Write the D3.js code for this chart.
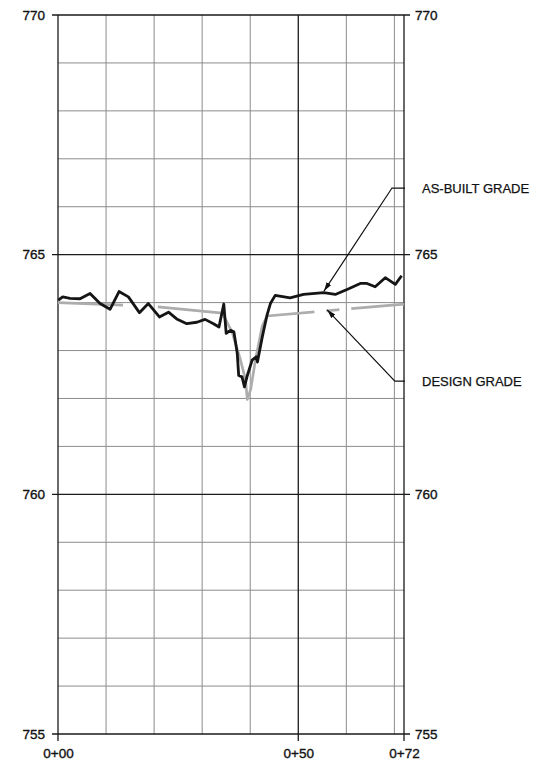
<!DOCTYPE html>
<html><head><meta charset="utf-8">
<script src="https://cdn.jsdelivr.net/npm/d3@7"></script>
<style>
body{margin:0;background:#fff}
text{font-family:"Liberation Sans",Arial,Helvetica,sans-serif;fill:#111}
</style>
</head><body>
<svg id="chart" width="536" height="765"></svg>
<script>
// ---- data ----
const stationTicks = [0, 50, 72];
const stationLabels = ["0+00", "0+50", "0+72"];
const minorStations = [10, 20, 30, 40, 60, 70];
const elevTicks = [755, 760, 765, 770];
const minorElevs = [756, 757, 758, 759, 761, 762, 763, 764, 766, 767, 768, 769];

const asBuiltStation = [0.06, 0.98, 2.5, 4.58, 6.67, 8.75, 10.83, 12.7, 14.65, 16.94, 18.8, 21.1, 23.0, 24.7, 26.8, 28.9, 30.6, 32.35, 33.5, 34.5, 35.0, 35.9, 36.6, 37.3, 37.6, 38.3, 38.8, 39.4, 40.4, 41.25, 41.5, 42.5, 43.5, 44.2, 45.2, 48.3, 51.1, 55.3, 57.7, 60.5, 62.9, 64.3, 66.0, 68.1, 70.2, 71.5];
const asBuiltElev = [764.05, 764.12, 764.09, 764.08, 764.19, 763.98, 763.86, 764.23, 764.12, 763.79, 763.98, 763.70, 763.80, 763.66, 763.56, 763.59, 763.65, 763.56, 763.49, 763.97, 763.36, 763.42, 763.39, 762.94, 762.48, 762.45, 762.24, 762.48, 762.80, 762.87, 762.76, 763.28, 763.74, 763.98, 764.15, 764.10, 764.17, 764.21, 764.17, 764.29, 764.40, 764.40, 764.33, 764.52, 764.38, 764.56];

const designStation = [0, 20, 34.2, 36.25, 37.9, 39.0, 39.4, 40.1, 41.1, 42.5, 43.5, 72];
const designElev = [764.0, 763.92, 763.78, 763.38, 762.83, 762.40, 761.98, 762.19, 762.81, 763.51, 763.72, 763.97];

const annotationLabels = ["AS-BUILT GRADE", "DESIGN GRADE"];
const annotationTipStation = [55.35, 56.0];
const annotationTipElev = [764.24, 763.85];
const annotationElbowStation = [69.5, 70.1];
const annotationElbowElev = [766.39, 762.36];

// ---- chart ----
const svg = d3.select("#chart");
const x = d3.scaleLinear().domain([0, 72]).range([58, 404]);
const y = d3.scaleLinear().domain([755, 770]).range([734, 15]);

const defs = svg.append("defs");
defs.append("marker").attr("id", "arr").attr("viewBox", "0 0 10 6")
  .attr("refX", 10).attr("refY", 3).attr("markerWidth", 9).attr("markerHeight", 5.4)
  .attr("markerUnits", "userSpaceOnUse").attr("orient", "auto")
  .append("path").attr("d", "M0,0 L10,3 L0,6 Z").attr("fill", "#111");

// minor grid
const g = svg.append("g");
g.selectAll(".mv").data(minorStations).join("line")
  .attr("x1", d => x(d)).attr("x2", d => x(d)).attr("y1", y(770)).attr("y2", y(755))
  .attr("stroke", "#8c8c8c").attr("stroke-width", 1);
g.selectAll(".mh").data(minorElevs).join("line")
  .attr("x1", x(0)).attr("x2", x(72)).attr("y1", d => y(d)).attr("y2", d => y(d))
  .attr("stroke", "#8c8c8c").attr("stroke-width", 1);

// major horizontal lines with ticks both sides
g.selectAll(".Mh").data(elevTicks).join("line")
  .attr("x1", x(0) - 6).attr("x2", x(72) + 6).attr("y1", d => y(d)).attr("y2", d => y(d))
  .attr("stroke", "#1a1a1a").attr("stroke-width", 1.3);
// major vertical lines with ticks below
g.selectAll(".Mv").data(stationTicks).join("line")
  .attr("x1", d => x(d)).attr("x2", d => x(d)).attr("y1", y(770)).attr("y2", y(755) + 7)
  .attr("stroke", "#1a1a1a").attr("stroke-width", 1.3);

// axis labels via d3 axes (domain and ticks hidden, text only)
const leftAxis = d3.axisLeft(y).tickValues(elevTicks).tickSize(0).tickPadding(13).tickFormat(d3.format("d"));
const rightAxis = d3.axisRight(y).tickValues(elevTicks).tickSize(0).tickPadding(11).tickFormat(d3.format("d"));
const bottomAxis = d3.axisBottom(x).tickValues(stationTicks).tickSize(0).tickPadding(14)
  .tickFormat((d, i) => stationLabels[i]);
function styleAxis(sel) {
  sel.select(".domain").remove();
  sel.selectAll("text").style("font-size", "13.5px").style("fill", "#111")
    .style("stroke", "#111").style("stroke-width", "0.35px")
    .style("font-family", '"Liberation Sans",Arial,sans-serif');
}
svg.append("g").attr("transform", `translate(${x(0)},0)`).call(leftAxis).call(styleAxis);
svg.append("g").attr("transform", `translate(${x(72)},0)`).call(rightAxis).call(styleAxis);
svg.append("g").attr("transform", `translate(0,${y(755)})`).call(bottomAxis).call(styleAxis);

// design grade
const design = designStation.map((s, i) => [s, designElev[i]]);
svg.append("path").datum(design)
  .attr("d", d3.line().x(d => x(d[0])).y(d => y(d[1])))
  .attr("fill", "none").attr("stroke", "#adadad").attr("stroke-width", 2.7)
  .attr("stroke-linejoin", "round")
  .attr("stroke-dasharray", "65,35,289,12,13,12,400");

// as-built grade
const asBuilt = asBuiltStation.map((s, i) => [s, asBuiltElev[i]]);
svg.append("path").datum(asBuilt)
  .attr("d", d3.line().x(d => x(d[0])).y(d => y(d[1])))
  .attr("fill", "none").attr("stroke", "#151515").attr("stroke-width", 2.8)
  .attr("stroke-linejoin", "round");

// annotations
annotationLabels.forEach((lab, i) => {
  const ex = x(annotationElbowStation[i]), ey = y(annotationElbowElev[i]);
  svg.append("path")
    .attr("d", `M${x(72) + 1},${ey} L${ex},${ey} L${x(annotationTipStation[i])},${y(annotationTipElev[i])}`)
    .attr("fill", "none").attr("stroke", "#111").attr("stroke-width", 1.2)
    .attr("marker-end", "url(#arr)");
  svg.append("text").attr("x", 422).attr("y", ey).attr("dy", "0.35em")
    .style("font-size", "13px").style("stroke", "#111").style("stroke-width", "0.25px")
    .text(lab);
});
</script>
</body></html>
